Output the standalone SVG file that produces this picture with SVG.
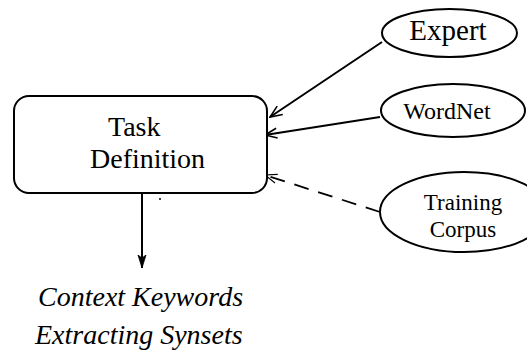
<svg xmlns="http://www.w3.org/2000/svg" width="527" height="354" viewBox="0 0 527 354">
<style>
.shape{fill:#fff;stroke:#000;stroke-width:2}
.t{font-family:"Liberation Serif","Times New Roman",serif;fill:#000}
.it{font-style:italic}
.ln{fill:none;stroke:#000;stroke-width:2}
.dash{stroke-dasharray:15 10;stroke-width:1.8}
</style>
<defs>
<marker id="open" markerWidth="14" markerHeight="12" refX="13" refY="6" orient="auto" markerUnits="userSpaceOnUse">
<path d="M1,1 L13,6 L1,11" fill="none" stroke="#000" stroke-width="1.6"/>
</marker>
<marker id="openThin" markerWidth="14" markerHeight="12" refX="13" refY="6" orient="auto" markerUnits="userSpaceOnUse">
<path d="M1,1.5 L13,6 L1,10.5" fill="none" stroke="#000" stroke-width="1.1"/>
</marker>
<marker id="filled" markerWidth="14" markerHeight="10" refX="13" refY="5" orient="auto" markerUnits="userSpaceOnUse">
<path d="M0,1 L13,5 L0,9 L3,5 Z" fill="#000" stroke="#000" stroke-width="0.8"/>
</marker>
</defs>
<g id="connectors">
<line class="ln" x1="382" y1="42" x2="270" y2="117" marker-end="url(#open)"/>
<line class="ln" x1="380" y1="117" x2="265" y2="135" marker-end="url(#open)"/>
<line class="ln dash" x1="380" y1="212" x2="265" y2="175" marker-end="url(#openThin)"/>
<line class="ln" x1="142" y1="193" x2="142" y2="268" marker-end="url(#filled)"/>
</g>
<g id="task">
<rect class="shape" x="14" y="96" width="253" height="97" rx="15" ry="15"/>
<text class="t" x="108" y="136" font-size="28">Task</text>
<text class="t" x="90" y="168" font-size="28">Definition</text>
<circle cx="160" cy="199" r="1" fill="#000"/>
</g>
<g id="expert">
<ellipse class="shape" cx="449.5" cy="33" rx="67.5" ry="24"/>
<text class="t" x="448" y="40" font-size="29" text-anchor="middle">Expert</text>
</g>
<g id="wordnet">
<ellipse class="shape" cx="453" cy="110.5" rx="72" ry="26.5"/>
<text class="t" x="447" y="119" font-size="24" text-anchor="middle">WordNet</text>
</g>
<g id="corpus">
<ellipse class="shape" cx="464" cy="212" rx="84" ry="40"/>
<text class="t" x="463" y="210" font-size="23" text-anchor="middle">Training</text>
<text class="t" x="463" y="237" font-size="23" text-anchor="middle">Corpus</text>
</g>
<g id="output">
<text class="t it" x="38" y="306" font-size="28">Context Keywords</text>
<text class="t it" x="35" y="344" font-size="28">Extracting Synsets</text>
</g>
</svg>
